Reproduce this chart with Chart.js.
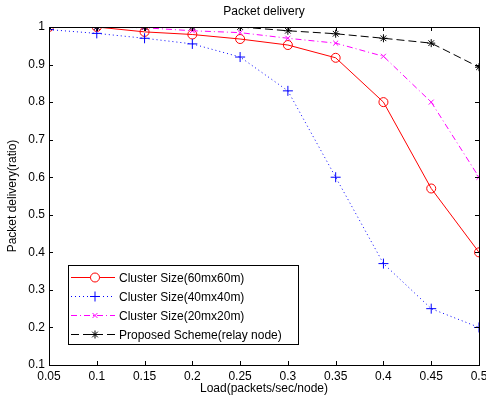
<!DOCTYPE html>
<html>
<head>
<meta charset="utf-8">
<script src="https://cdn.jsdelivr.net/npm/chart.js@4/dist/chart.umd.min.js"></script>
<style>
  html,body{margin:0;padding:0;background:#fff;}
  #wrap{width:486px;height:403px;}
</style>
</head>
<body>
<div id="wrap"><canvas id="c" width="486" height="403"></canvas></div>
<script>
// Load values (x axis)
const loads = [0.05,0.1,0.15,0.2,0.25,0.3,0.35,0.4,0.45,0.5];
// Packet delivery ratio per series
const cluster60 = [1.0,1.0,0.987,0.98,0.968,0.952,0.918,0.80,0.57,0.40];
const cluster40 = [0.993,0.983,0.97,0.955,0.92,0.83,0.60,0.37,0.25,0.20];
const cluster20 = [1.0,1.0,0.998,0.99,0.985,0.97,0.957,0.922,0.80,0.60];
const proposed  = [1.0,1.0,1.0,1.0,1.0,0.99,0.982,0.97,0.957,0.893];
const seriesNames = ['Cluster Size(60mx60m)','Cluster Size(40mx40m)','Cluster Size(20mx20m)','Proposed Scheme(relay node)'];
const yTicks = [0.1,0.2,0.3,0.4,0.5,0.6,0.7,0.8,0.9,1];

const FONT = 'Liberation Sans, Arial, sans-serif';
const pts = arr => arr.map((v,i)=>({x:loads[i], y:v}));

// matlab-ish box, inward ticks, title and legend
const matlabBox = {
  id:'matlabBox',
  afterDraw(chart){
    const {ctx, chartArea:a, scales:{x,y}} = chart;
    ctx.save();
    ctx.strokeStyle = '#000'; ctx.lineWidth = 1;
    ctx.strokeRect(Math.round(a.left)+0.5, Math.round(a.top)+0.5, Math.round(a.right-a.left), Math.round(a.bottom-a.top));
    const tl = 4;
    ctx.beginPath();
    x.ticks.forEach(t=>{
      const px = Math.round(x.getPixelForValue(t.value))+0.5;
      ctx.moveTo(px,a.bottom); ctx.lineTo(px,a.bottom-tl);
      ctx.moveTo(px,a.top); ctx.lineTo(px,a.top+tl);
    });
    y.ticks.forEach(t=>{
      const py = Math.round(y.getPixelForValue(t.value))+0.5;
      ctx.moveTo(a.left,py); ctx.lineTo(a.left+tl,py);
      ctx.moveTo(a.right,py); ctx.lineTo(a.right-tl,py);
    });
    ctx.stroke();

    // title
    ctx.fillStyle = '#000';
    ctx.font = '12px ' + FONT;
    ctx.textAlign = 'center'; ctx.textBaseline = 'middle';
    ctx.fillText('Packet delivery', (a.left+a.right)/2, 12);

    // legend
    const lx = 68, ly = 265, lw = 230, lh = 79;
    ctx.fillStyle = '#fff';
    ctx.fillRect(lx, ly, lw, lh);
    ctx.strokeStyle = '#000';
    ctx.strokeRect(lx+0.5, ly+0.5, lw, lh);
    chart.data.datasets.forEach((ds,i)=>{
      const ry = ly + 12.5 + i*19;
      ctx.strokeStyle = ds.borderColor;
      ctx.lineWidth = 1;
      ctx.setLineDash(ds.borderDash || []);
      ctx.beginPath(); ctx.moveTo(71, ry); ctx.lineTo(115, ry); ctx.stroke();
      ctx.setLineDash([]);
      Chart.helpers.drawPoint(ctx, {pointStyle: ds.pointStyle, radius: ds.pointRadius, borderWidth: 1}, 95, ry);
      ctx.fillStyle = '#000';
      ctx.textAlign = 'left';
      ctx.font = '12px ' + FONT;
      ctx.fillText(seriesNames[i], 119, ry+1);
    });
    ctx.restore();
  }
};

new Chart(document.getElementById('c'), {
  type:'line',
  data:{
    datasets:[
      {label:seriesNames[0], data:pts(cluster60), borderColor:'#ff0000', backgroundColor:'rgba(0,0,0,0)',
        pointStyle:'circle', pointRadius:4.5, pointBorderColor:'#ff0000', borderWidth:1, order:4},
      {label:seriesNames[1], data:pts(cluster40), borderColor:'#0000ff', backgroundColor:'rgba(0,0,0,0)',
        pointStyle:'cross', pointRadius:5, pointBorderColor:'#0000ff', borderWidth:1, borderDash:[1,3], order:3},
      {label:seriesNames[2], data:pts(cluster20), borderColor:'#ff00ff', backgroundColor:'rgba(0,0,0,0)',
        pointStyle:'crossRot', pointRadius:3.5, pointBorderColor:'#ff00ff', borderWidth:1, borderDash:[6,3,1,3], order:2},
      {label:seriesNames[3], data:pts(proposed), borderColor:'#000000', backgroundColor:'rgba(0,0,0,0)',
        pointStyle:'star', pointRadius:4, pointBorderColor:'#000000', borderWidth:1, borderDash:[8,4], order:1}
    ]
  },
  options:{
    responsive:false,
    animation:false,
    events:[],
    layout:{padding:{top:27, right:7, bottom:0, left:0}},
    plugins:{legend:{display:false}, title:{display:false}, tooltip:{enabled:false}},
    elements:{line:{tension:0}, point:{borderWidth:1, hoverRadius:0}},
    scales:{
      x:{
        type:'linear', min:0.05, max:0.5,
        afterFit(s){ s.height = 38; s.paddingLeft = 0; s.paddingRight = 0; },
        afterBuildTicks(s){ s.ticks = loads.map(v=>({value:v})); },
        grid:{display:false, drawTicks:false},
        border:{display:false},
        ticks:{padding:4, color:'#000', font:{family:FONT, size:12}, maxRotation:0, autoSkip:false,
          callback:v=>String(+v.toFixed(2))},
        title:{display:true, text:'Load(packets/sec/node)', color:'#000', font:{family:FONT, size:12}, padding:{top:0,bottom:7}}
      },
      y:{
        type:'linear', min:0.1, max:1,
        afterFit(s){ s.width = 49; s.paddingTop = 0; s.paddingBottom = 0; },
        afterBuildTicks(s){ s.ticks = yTicks.map(v=>({value:v})); },
        grid:{display:false, drawTicks:false},
        border:{display:false},
        ticks:{padding:4, color:'#000', font:{family:FONT, size:12}, autoSkip:false,
          callback:v=>String(+v.toFixed(2))},
        title:{display:true, text:'Packet delivery(ratio)', color:'#000', font:{family:FONT, size:12}, padding:{top:5,bottom:0}}
      }
    }
  },
  plugins:[matlabBox]
});
</script>
</body>
</html>
